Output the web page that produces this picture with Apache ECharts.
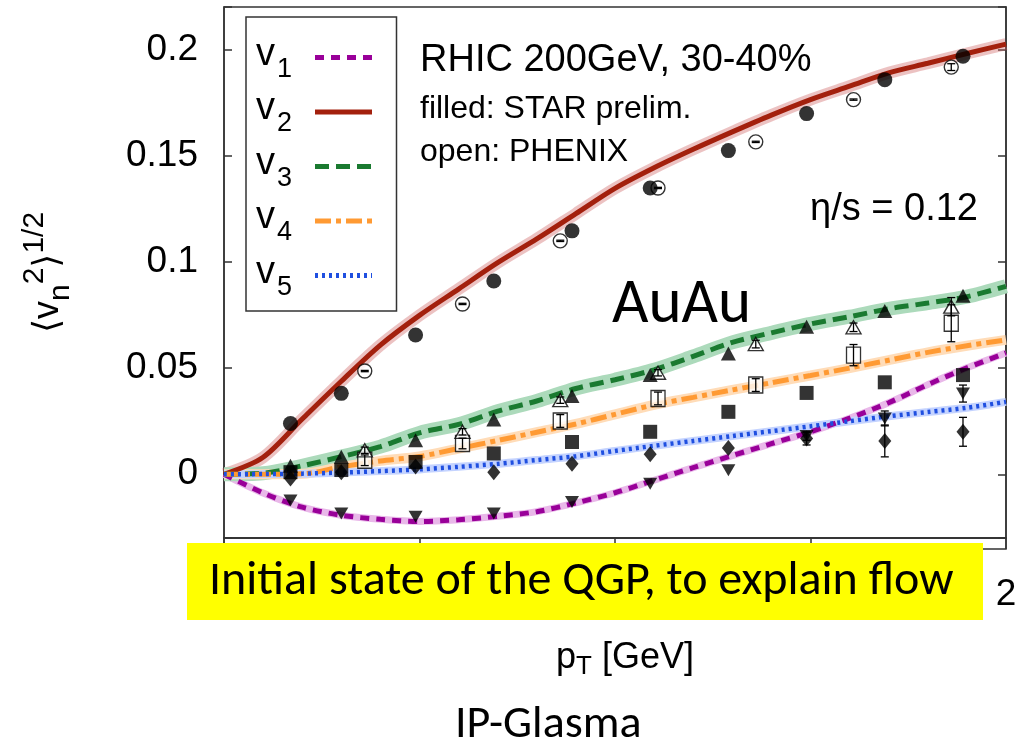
<!DOCTYPE html>
<html><head><meta charset="utf-8">
<script src="https://cdn.jsdelivr.net/npm/echarts@6/dist/echarts.min.js"></script>
<style>html,body{margin:0;padding:0;background:#fff}#c{width:1020px;height:745px}</style>
</head><body><div id="c"></div>
<script>
// ---- model curves (IP-Glasma + hydro, eta/s = 0.12) ----
const pTModel = [0,0.1,0.2,0.3,0.4,0.5,0.6,0.7,0.8,0.9,1.0,1.1,1.2,1.3,1.4,1.5,1.6,1.7,1.8,1.9,2.0];
const v1Model = [0,-0.0088,-0.0155,-0.0193,-0.0212,-0.0222,-0.0214,-0.0198,-0.0176,-0.0135,-0.0087,-0.0028,0.0031,0.0088,0.0144,0.020,0.0264,0.0337,0.0422,0.0501,0.0571];
const v2Model = [0,0.008,0.026,0.0438,0.0608,0.0748,0.0872,0.0996,0.1108,0.1227,0.1346,0.1443,0.153,0.1612,0.1691,0.1764,0.1827,0.189,0.1935,0.1981,0.2025];
const v3Model = [0,0.0005,0.004,0.0083,0.013,0.0195,0.0235,0.0297,0.0345,0.0404,0.0445,0.0492,0.0555,0.0621,0.0666,0.0708,0.0742,0.0779,0.0806,0.0836,0.0885];
const v4Model = [0,0,0.0002,0.0035,0.0063,0.0084,0.0121,0.0159,0.0198,0.0237,0.0282,0.0327,0.0362,0.0397,0.0431,0.0465,0.05,0.0537,0.0574,0.0605,0.0633];
const v5Model = [0,0.0001,0.0003,0.0008,0.0015,0.0023,0.0035,0.0049,0.0067,0.0085,0.011,0.0134,0.0157,0.018,0.0203,0.0226,0.025,0.0273,0.0293,0.0313,0.0341];

// ---- STAR preliminary (filled) ----
const starPt = [0.17,0.30,0.49,0.69,0.89,1.09,1.29,1.49,1.69,1.89];
const starV1 = [-0.0123,-0.0185,-0.020,-0.0185,-0.013,-0.0044,0.0019,0.018,0.0263,0.038];
const starV2 = [0.0239,0.0381,0.0656,0.0910,0.1146,0.1348,0.1524,0.1698,0.1858,0.1968];
const starV3 = [0.004,0.0082,0.016,0.0258,0.0368,0.0467,0.0569,0.0695,0.0769,0.084];
const starV4 = [0.001,0.002,0.0058,0.0098,0.0152,0.020,0.0294,0.0383,0.0433,0.0467];
const starV5 = [-0.002,0.001,0.0037,0.001,0.005,0.0094,0.0124,0.0168,0.0157,0.020];
const starV1Err = [0,0,0,0,0,0,0,0.002,0.0035,0.004];
const starV5Err = [0,0,0,0,0,0,0,0.003,0.0075,0.0068];

// ---- PHENIX (open) ----
const phxPt = [0.36,0.61,0.86,1.11,1.36,1.61,1.86];
const phxV2 = [0.0486,0.0802,0.1099,0.1348,0.1565,0.1764,0.1917];
const phxV3 = [0.0113,0.020,0.0349,0.0478,0.0613,0.0692,0.0789];
const phxV4 = [0.0066,0.0145,0.0251,0.0357,0.042,0.0561,0.0711];
const phxV2Err = [0.0003,0.0003,0.0003,0.0003,0.0003,0.0003,0.0016];
const phxV3Err = [0.0015,0.0015,0.0015,0.0015,0.0018,0.002,0.0043];
const phxV4Err = [0.0025,0.0025,0.003,0.003,0.003,0.005,0.0087];

// ---- axis ticks / texts ----
const xTicks = [0,0.5,1,1.5,2];
const yTicks = [0,0.05,0.1,0.15,0.2];
const legendNames = ['v1','v2','v3','v4','v5'];

const HF = '"Liberation Sans", Arial, Helvetica, "DejaVu Sans", sans-serif';
const CF = 'Carlito, Lato, "Open Sans", sans-serif';

function pairs(xs, ys){ return xs.map((x,i)=>[x, ys[i]]); }
function errs(xs, ys, es){ const out=[]; xs.forEach((x,i)=>{ if(es[i]>0) out.push([x, ys[i]-es[i], ys[i]+es[i]]); }); return out; }
function errRender(params, api){
  const x = api.value(0), lo = api.value(1), hi = api.value(2);
  const p1 = api.coord([x, lo]), p2 = api.coord([x, hi]);
  const w = 4, st = {stroke:'#000', lineWidth:1.3};
  return {type:'group', children:[
    {type:'line', shape:{x1:p1[0],y1:p1[1],x2:p2[0],y2:p2[1]}, style:st},
    {type:'line', shape:{x1:p1[0]-w,y1:p1[1],x2:p1[0]+w,y2:p1[1]}, style:st},
    {type:'line', shape:{x1:p2[0]-w,y1:p2[1],x2:p2[0]+w,y2:p2[1]}, style:st}
  ]};
}
function errSeries(data){
  return {type:'custom', renderItem:errRender, data:data, encode:{x:0,y:[1,2]}, silent:true, z:5};
}

const curves = [
  {name:'v1', data:v1Model, color:'#990099', band:'#e9b8e9', bw:7, dash:[9,7], w:5},
  {name:'v2', data:v2Model, color:'#a3200d', band:'rgba(205,95,95,0.38)', bw:12, dash:'solid', w:5},
  {name:'v3', data:v3Model, color:'#1a7a30', band:'#acdabb', bw:14, dash:[14,7], w:5},
  {name:'v4', data:v4Model, color:'#ff9a33', band:'#ffdcb8', bw:10, dash:[16,5,5,5], w:5},
  {name:'v5', data:v5Model, color:'#1f4fe0', band:'#c4d3ff', bw:8, dash:[3,4], w:4.5}
];

const series = [];
curves.forEach(c=>{
  series.push({name:c.name+'_band', type:'line', data:pairs(pTModel,c.data), showSymbol:false, symbol:'none', smooth:0.3, silent:true,
    lineStyle:{color:c.band, width:c.bw}, z:1});
});
curves.forEach(c=>{
  series.push({name:c.name, type:'line', data:pairs(pTModel,c.data), showSymbol:false, symbol:'none', smooth:0.3, silent:true,
    itemStyle:{color:c.color}, lineStyle:{color:c.color, width:c.w, type:c.dash, cap:'butt'}, z:2});
});

const openStyle = {color:'#fff', borderColor:'#000', borderWidth:1.4};
const fillStyle = {color:'#000'};
function sc(name, xs, ys, symbol, size, style, rot){
  return {name:name, type:'scatter', data:pairs(xs,ys), symbol:symbol, symbolSize:size, symbolRotate:rot||0, itemStyle:style, silent:true, z:4};
}
// PHENIX open markers first
series.push(sc('phx_v4', phxPt, phxV4, 'rect', [14,16], openStyle));
series.push(sc('phx_v3', phxPt, phxV3, 'triangle', [15,13], openStyle));
series.push(sc('phx_v2', phxPt, phxV2, 'circle', 14, openStyle));
series.push(errSeries(errs(phxPt, phxV2, phxV2Err)));
series.push(errSeries(errs(phxPt, phxV3, phxV3Err)));
series.push(errSeries(errs(phxPt, phxV4, phxV4Err)));
// STAR filled markers
series.push(Object.assign(sc('star_v1', starPt, starV1, 'triangle', [14,12], fillStyle, 180), {z:6}));
series.push(Object.assign(sc('star_v5', starPt, starV5, 'diamond', [13,16], fillStyle), {z:6}));
series.push(Object.assign(sc('star_v4', starPt, starV4, 'rect', [14,14], fillStyle), {z:6}));
series.push(Object.assign(sc('star_v3', starPt, starV3, 'triangle', [15,14], fillStyle), {z:6}));
series.push(Object.assign(sc('star_v2', starPt, starV2, 'circle', 15, fillStyle), {z:6}));
series.push(Object.assign(errSeries(errs(starPt, starV1, starV1Err)), {z:7}));
series.push(Object.assign(errSeries(errs(starPt, starV5, starV5Err)), {z:7}));

function isTick(v, list){ return list.some(t=>Math.abs(t-v)<1e-6); }

const axisColor = '#333';
const option = {
  animation:false,
  backgroundColor:'#fff',
  grid:{left:224, right:14, top:7, bottom:207, show:true, borderColor:axisColor, borderWidth:1.5, backgroundColor:'transparent'},
  xAxis:{type:'value', min:0, max:2, interval:0.5,
    axisLine:{show:true, onZero:false, lineStyle:{color:axisColor, width:1.5}},
    axisTick:{show:true, inside:false, length:11, lineStyle:{color:axisColor, width:1.5}},
    splitLine:{show:false},
    axisLabel:{fontSize:37, fontFamily:HF, color:'#000', margin:38, formatter:v=>isTick(v,xTicks)?String(v):''},
    name:'{p|p}{t|T}{g| [GeV]}', nameLocation:'middle', nameGap:102,
    nameTextStyle:{padding:[0,0,0,20], rich:{
      p:{fontSize:36, fontFamily:HF, color:'#000', lineHeight:36, verticalAlign:'middle'},
      t:{fontSize:26, fontFamily:HF, color:'#000', lineHeight:26, padding:[18,0,0,0], verticalAlign:'middle'},
      g:{fontSize:36, fontFamily:HF, color:'#000', lineHeight:36, verticalAlign:'middle'}
    }}
  },
  yAxis:[
    {type:'value', min:-0.03, max:0.22, splitNumber:5, position:'left',
      axisLine:{show:true, onZero:false, lineStyle:{color:axisColor, width:1.5}},
      axisTick:{show:true, inside:true, length:8, lineStyle:{color:axisColor, width:1.5}},
      splitLine:{show:false},
      axisLabel:{fontSize:37, fontFamily:HF, color:'#000', margin:26,
        formatter:v=>isTick(v,yTicks)?String(+v.toFixed(2)):''},
      name:'{a|⟨v}{b|n}{c|2}{a|⟩}{c|1/2}', nameLocation:'middle', nameRotate:90, nameGap:158,
      nameTextStyle:{rich:{
        a:{fontSize:36, fontFamily:HF, color:'#000', lineHeight:36, verticalAlign:'middle'},
        b:{fontSize:30, fontFamily:HF, color:'#000', lineHeight:30, padding:[26,0,0,0], verticalAlign:'middle'},
        c:{fontSize:30, fontFamily:HF, color:'#000', lineHeight:30, padding:[0,0,26,0], verticalAlign:'middle'}
      }}
    },
    {type:'value', min:-0.03, max:0.22, splitNumber:5, position:'right',
      axisLine:{show:true, onZero:false, lineStyle:{color:axisColor, width:1.5}},
      axisTick:{show:true, inside:true, length:8, lineStyle:{color:axisColor, width:1.5}},
      splitLine:{show:false}, axisLabel:{show:false}}
  ],
  legend:{data:legendNames, orient:'vertical', left:246, top:17, padding:[15,22,10,10], itemGap:3.5,
    itemWidth:57, itemHeight:14, align:'right', selectedMode:false,
    borderColor:axisColor, borderWidth:1.5, backgroundColor:'#fff',
    itemStyle:{opacity:0, borderWidth:0},
    lineStyle:{width:5},
    formatter:n=>'{v|v}{s|'+n.slice(1)+'}',
    textStyle:{rich:{
      v:{fontSize:38, fontFamily:HF, color:'#000', lineHeight:38, padding:[0,0,6,0], verticalAlign:'middle', align:'left', width:21},
      s:{fontSize:27, fontFamily:HF, color:'#000', lineHeight:27, padding:[24,0,0,0], verticalAlign:'middle', align:'left', width:33}
    }}
  },
  graphic:[
    {type:'rect', shape:{x:224, y:538, width:782, height:11}, style:{fill:'none', stroke:axisColor, lineWidth:1.5}, z:3, silent:true},
    {type:'text', x:420, y:61, style:{text:'RHIC 200GeV, 30-40%', fontSize:38, fontFamily:HF, fill:'#000', verticalAlign:'middle'}, z:50},
    {type:'text', x:420, y:109, style:{text:'filled: STAR prelim.', fontSize:32, fontFamily:HF, fill:'#000', verticalAlign:'middle'}, z:50},
    {type:'text', x:420, y:152, style:{text:'open: PHENIX', fontSize:32, fontFamily:HF, fill:'#000', verticalAlign:'middle'}, z:50},
    {type:'text', x:810, y:210, style:{text:'η/s = 0.12', fontSize:38, fontFamily:HF, fill:'#000', verticalAlign:'middle'}, z:50},
    {type:'text', x:612, y:306, style:{text:'AuAu', fontSize:63, fontFamily:CF, fill:'#000', verticalAlign:'middle'}, z:50},
    {type:'rect', shape:{x:187, y:543, width:796, height:77}, style:{fill:'#ffff00'}, z:100, silent:true},
    {type:'text', x:209, y:582, style:{text:'Initial state of the QGP, to explain flow', fontSize:48, fontFamily:CF, fill:'#000', verticalAlign:'middle'}, z:101},
    {type:'text', x:455, y:725, style:{text:'IP-Glasma', fontSize:46, fontFamily:CF, fill:'#000', verticalAlign:'middle'}, z:101}
  ],
  series:series
};
const chart = echarts.init(document.getElementById('c'), null, {renderer:'canvas'});
chart.setOption(option);
</script></body></html>
